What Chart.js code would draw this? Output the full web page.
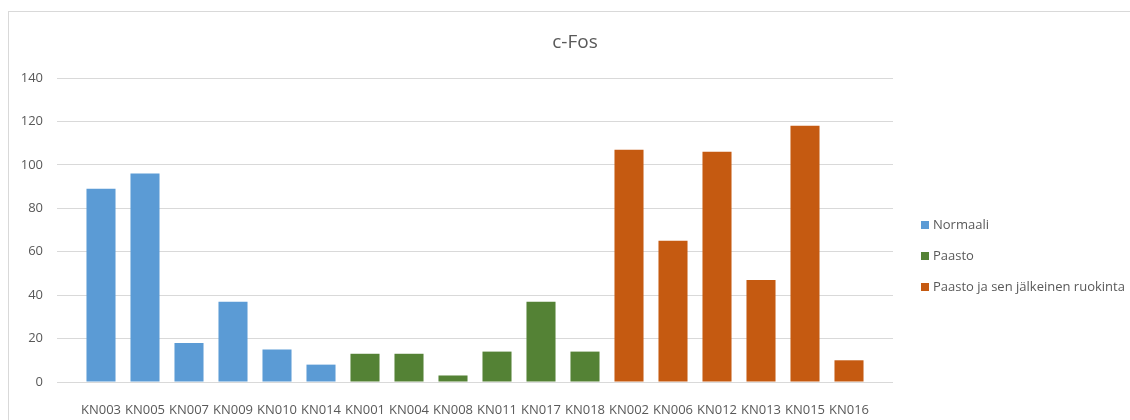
<!DOCTYPE html>
<html>
<head>
<meta charset="utf-8">
<title>c-Fos</title>
<script src="https://cdn.jsdelivr.net/npm/chart.js@4/dist/chart.umd.min.js"></script>
<style>
  html, body { margin: 0; padding: 0; background: #ffffff; }
  #wrap { position: relative; width: 1130px; height: 420px; overflow: hidden; }
  #frame { position: absolute; left: 8px; top: 11px; width: 1200px; height: 500px;
           border: 1px solid #d9d9d9; box-sizing: border-box; }
  #chart { position: absolute; left: 0; top: 0; }
</style>
</head>
<body>
<div id="wrap">
  <div id="frame"></div>
  <canvas id="chart" width="1130" height="420"></canvas>
</div>
<script>
// Samples per group and their c-Fos counts
const normaaliSamples = ['KN003', 'KN005', 'KN007', 'KN009', 'KN010', 'KN014'];
const normaaliValues  = [89, 96, 18, 37, 15, 8];

const paastoSamples = ['KN001', 'KN004', 'KN008', 'KN011', 'KN017', 'KN018'];
const paastoValues  = [13, 13, 3, 14, 37, 14];

const ruokintaSamples = ['KN002', 'KN006', 'KN012', 'KN013', 'KN015', 'KN016'];
const ruokintaValues  = [107, 65, 106, 47, 118, 10];

const groupNames = ['Normaali', 'Paasto', 'Paasto ja sen jälkeinen ruokinta'];
const groupColors = ['#5B9BD5', '#548235', '#C55A11'];

const categories = [...normaaliSamples, ...paastoSamples, ...ruokintaSamples];

const yMin = 0;
const yMax = 140;
const yStep = 20;

const chartTitle = 'c-Fos';

// Map each sample to its slot on the category axis
function toPoints(samples, values) {
  return samples.map((s, i) => ({ x: categories.indexOf(s), y: values[i] }));
}

const textColor = '#595959';
const fontFamily = '"Open Sans", "Liberation Sans", sans-serif';

// Title and legend drawn next to the plot area
const decorPlugin = {
  id: 'decor',
  afterDraw(chart) {
    const ctx = chart.ctx;
    const area = chart.chartArea;
    ctx.save();
    ctx.fillStyle = textColor;
    ctx.font = '19px ' + fontFamily;
    ctx.textAlign = 'center';
    ctx.textBaseline = 'middle';
    ctx.fillText(chartTitle, 575, 43);

    ctx.font = '13px ' + fontFamily;
    ctx.textAlign = 'left';
    const x0 = area.right + 28;
    chart.data.datasets.forEach((ds, i) => {
      const y = 225 + i * 31;
      ctx.fillStyle = ds.backgroundColor;
      ctx.fillRect(x0, y - 4, 8, 8);
      ctx.fillStyle = textColor;
      ctx.fillText(ds.label, x0 + 12, y);
    });
    ctx.restore();
  }
};

new Chart(document.getElementById('chart'), {
  type: 'bar',
  data: {
    datasets: [
      { label: groupNames[0], data: toPoints(normaaliSamples, normaaliValues), backgroundColor: groupColors[0] },
      { label: groupNames[1], data: toPoints(paastoSamples, paastoValues), backgroundColor: groupColors[1] },
      { label: groupNames[2], data: toPoints(ruokintaSamples, ruokintaValues), backgroundColor: groupColors[2] }
    ]
  },
  options: {
    responsive: false,
    animation: false,
    layout: { padding: { left: 20, right: 237, top: 78, bottom: 0 } },
    datasets: { bar: { categoryPercentage: 1, barPercentage: 0.66 } },
    scales: {
      x: {
        type: 'linear',
        stacked: true,
        offset: false,
        min: -1,
        max: categories.length,
        grid: { display: false, drawTicks: false },
        border: { display: false },
        afterFit: (scale) => { scale.height = 38; },
        ticks: {
          stepSize: 1,
          autoSkip: false,
          maxRotation: 0,
          padding: 20,
          color: textColor,
          font: { family: fontFamily, size: 13 },
          callback: (v) => (categories[v] !== undefined ? categories[v] : '')
        }
      },
      y: {
        stacked: true,
        min: yMin,
        max: yMax,
        grid: { color: '#d9d9d9', lineWidth: 1, drawTicks: false },
        border: { display: false },
        afterFit: (scale) => { scale.width = 37; },
        ticks: {
          stepSize: yStep,
          padding: 14,
          color: textColor,
          font: { family: fontFamily, size: 13 }
        }
      }
    },
    plugins: {
      legend: { display: false },
      title: { display: false },
      tooltip: { enabled: false }
    }
  },
  plugins: [decorPlugin]
});
</script>
</body>
</html>
